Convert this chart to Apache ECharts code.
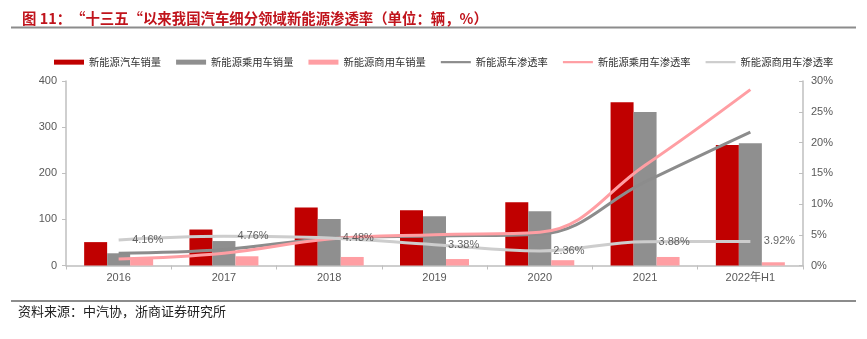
<!DOCTYPE html>
<html><head><meta charset="utf-8">
<script src="https://cdn.jsdelivr.net/npm/echarts@6/dist/echarts.min.js"></script>
<style>html,body{margin:0;padding:0;background:#fff}#c{width:867px;height:339px}</style>
</head><body><div id="c"></div>
<script>
const categories = ['2016','2017','2018','2019','2020','2021','2022年H1'];
const nevSales = [50.7, 78, 126, 120, 137, 354, 261];
const passengerSales = [26.5, 53, 101, 107, 117.5, 333, 265];
const commercialSales = [15.5, 20, 18.5, 14, 11.5, 18.5, 7];
const nevPen = [2.0, 2.6, 4.4, 4.8, 5.1, 13.6, 21.7];
const passengerPen = [1.05, 2.0, 4.3, 5.0, 5.4, 16.3, 28.6];
const commercialPen = [4.16, 4.76, 4.48, 3.38, 2.36, 3.88, 3.92];
const leftTicks = [0, 100, 200, 300, 400];
const rightTicks = [0, 5, 10, 15, 20, 25, 30];

const FONT = '"Liberation Sans","Noto Sans CJK SC",sans-serif';
const CJK = '"Noto Sans CJK SC",sans-serif';
const LINE_ICON = 'path://M0,0L30,0L30,2.2L0,2.2Z';
const chart = echarts.init(document.getElementById('c'), null, {renderer: 'canvas'});
const axisLabel = {color: '#595959', fontSize: 11, fontFamily: FONT};
chart.setOption({
  animation: false,
  title: {
    text: '图 11：“十三五“以来我国汽车细分领域新能源渗透率（单位：辆，%）',
    left: 17, top: 6,
    textStyle: {color: '#C0141C', fontSize: 14.4, fontWeight: 'bold', fontFamily: CJK}
  },
  graphic: [
    {type: 'line', shape: {x1: 11, y1: 27.5, x2: 856, y2: 27.5}, style: {stroke: '#8c8c8c', lineWidth: 2}},
    {type: 'line', shape: {x1: 11, y1: 301, x2: 856, y2: 301}, style: {stroke: '#8c8c8c', lineWidth: 2}},
    {type: 'text', left: 18, top: 305, style: {text: '资料来源：中汽协，浙商证券研究所', fill: '#222', font: '13px "Noto Sans CJK SC", sans-serif'}}
  ],
  legend: {
    left: 49, top: 52, itemWidth: 30, itemHeight: 5, itemGap: 15,
    symbolKeepAspect: true,
    textStyle: {color: '#333', fontSize: 10.3, fontFamily: CJK},
    data: [
      {name: '新能源汽车销量', icon: 'rect'},
      {name: '新能源乘用车销量', icon: 'rect'},
      {name: '新能源商用车销量', icon: 'rect'},
      {name: '新能源车渗透率', icon: LINE_ICON},
      {name: '新能源乘用车渗透率', icon: LINE_ICON},
      {name: '新能源商用车渗透率', icon: LINE_ICON}
    ]
  },
  grid: {left: 66, right: 64, top: 81, bottom: 73.5},
  xAxis: {
    type: 'category', data: categories,
    axisLine: {lineStyle: {color: '#BFBFBF', width: 1.5}},
    axisTick: {show: true, length: 4, lineStyle: {color: '#BFBFBF'}},
    axisLabel: Object.assign({margin: 7}, axisLabel)
  },
  yAxis: [
    {type: 'value', min: leftTicks[0], max: leftTicks[leftTicks.length - 1], interval: 100,
     splitLine: {show: false},
     axisLine: {show: true, lineStyle: {color: '#BFBFBF', width: 1.5}},
     axisTick: {show: true, length: 4, lineStyle: {color: '#BFBFBF'}},
     axisLabel: Object.assign({margin: 9}, axisLabel)},
    {type: 'value', min: rightTicks[0], max: rightTicks[rightTicks.length - 1], interval: 5,
     splitLine: {show: false},
     axisLine: {show: true, lineStyle: {color: '#BFBFBF', width: 1.5}},
     axisTick: {show: true, inside: true, length: 4, lineStyle: {color: '#BFBFBF'}},
     axisLabel: Object.assign({margin: 8, formatter: '{value}%'}, axisLabel)}
  ],
  series: [
    {name: '新能源汽车销量', type: 'bar', data: nevSales, barWidth: 23, barGap: '0%', itemStyle: {color: '#C00000'}},
    {name: '新能源乘用车销量', type: 'bar', data: passengerSales, barWidth: 23, barGap: '0%', itemStyle: {color: '#8F8F8F'}},
    {name: '新能源商用车销量', type: 'bar', data: commercialSales, barWidth: 23, barGap: '0%', itemStyle: {color: '#FF9EA3'}},
    {name: '新能源车渗透率', type: 'line', yAxisIndex: 1, data: nevPen, smooth: 0.4, symbol: 'none',
     itemStyle: {color: '#8C8C8C'}, lineStyle: {color: '#8C8C8C', width: 3}},
    {name: '新能源乘用车渗透率', type: 'line', yAxisIndex: 1, data: passengerPen, smooth: 0.4, symbol: 'none',
     itemStyle: {color: '#FF9EA3'}, lineStyle: {color: '#FF9EA3', width: 3}},
    {name: '新能源商用车渗透率', type: 'line', yAxisIndex: 1, data: commercialPen, smooth: 0.4, symbol: 'none',
     itemStyle: {color: '#CDCDCD'}, lineStyle: {color: '#CDCDCD', width: 3}},
    {name: '商用车渗透率标签', type: 'scatter', yAxisIndex: 1, data: commercialPen, symbolSize: 1,
     itemStyle: {color: 'rgba(0,0,0,0)'}, z: 5,
     label: {show: true, position: 'right', distance: 13, color: '#404040', fontSize: 11, fontFamily: FONT,
       formatter: p => p.value.toFixed(2) + '%'}}
  ]
});
</script></body></html>
